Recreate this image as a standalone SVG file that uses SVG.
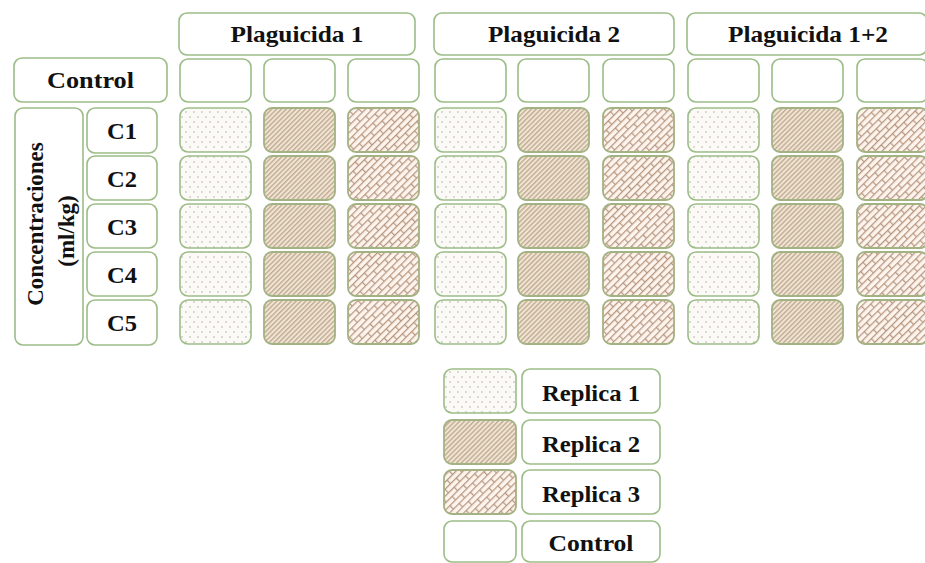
<svg xmlns="http://www.w3.org/2000/svg" width="925" height="563" viewBox="0 0 925 563">
<defs>
<style>
.box{fill:#ffffff;stroke:#9dbd88;stroke-width:1.6;rx:8px;ry:8px}
.r1{fill:url(#p1);stroke:#9dbd88;stroke-width:1.6;rx:8px;ry:8px}
.r2{fill:url(#p2);stroke:#a3b283;stroke-width:1.8;rx:8px;ry:8px}
.r3{fill:url(#p3);stroke:#a3b283;stroke-width:1.8;rx:8px;ry:8px}
.t{font-family:"Liberation Serif","Times New Roman",serif;font-weight:bold;font-size:23px;fill:#111111;text-anchor:middle}
</style>
<pattern id="p1" patternUnits="userSpaceOnUse" width="8" height="10">
<rect width="8" height="10" fill="#fcfaf7"/>
<circle cx="2" cy="2" r="0.75" fill="#aaa49c"/>
<circle cx="6" cy="7" r="0.75" fill="#aaa49c"/>
</pattern>
<pattern id="p2" patternUnits="userSpaceOnUse" width="3.4" height="10" patternTransform="rotate(45)">
<rect width="3.4" height="10" fill="#efe5d6"/>
<rect width="1.4" height="10" fill="#c3ab90"/>
</pattern>
<pattern id="p3" patternUnits="userSpaceOnUse" width="16" height="10" patternTransform="rotate(-45)">
<rect width="16" height="10" fill="#fdf4ee"/>
<path d="M0 0.6H16M0 5.6H16M0.6 0V5M8.6 5V10" stroke="#b8977f" stroke-width="1.2" fill="none"/>
</pattern>
</defs>
<rect width="925" height="563" fill="#ffffff"/>

<g id="header-p1"><rect class="box" x="179" y="13" width="236" height="42"/><text class="t" x="297" y="42" textLength="133" lengthAdjust="spacingAndGlyphs">Plaguicida 1</text></g>
<g id="header-p2"><rect class="box" x="434" y="13" width="240" height="42"/><text class="t" x="554" y="42" textLength="132" lengthAdjust="spacingAndGlyphs">Plaguicida 2</text></g>
<g id="header-p12"><rect class="box" x="687" y="13" width="240" height="42"/><text class="t" x="808" y="42" textLength="160" lengthAdjust="spacingAndGlyphs">Plaguicida 1+2</text></g>

<g id="label-control"><rect class="box" x="14" y="58" width="153" height="44"/><text class="t" x="90.5" y="88" textLength="87" lengthAdjust="spacingAndGlyphs">Control</text></g>
<g id="label-concentraciones"><rect class="box" x="15" y="108" width="68" height="237"/>
<text class="t" transform="translate(43,224) rotate(-90)">Concentraciones</text>
<text class="t" transform="translate(74,231) rotate(-90)">(ml/kg)</text></g>
<g id="label-c1"><rect class="box" x="87" y="108" width="70" height="45"/><text class="t" x="122" y="139" textLength="30" lengthAdjust="spacingAndGlyphs">C1</text></g>
<g id="label-c2"><rect class="box" x="87" y="156" width="70" height="44"/><text class="t" x="122" y="187" textLength="30" lengthAdjust="spacingAndGlyphs">C2</text></g>
<g id="label-c3"><rect class="box" x="87" y="204" width="70" height="44"/><text class="t" x="122" y="235" textLength="30" lengthAdjust="spacingAndGlyphs">C3</text></g>
<g id="label-c4"><rect class="box" x="87" y="252" width="70" height="44"/><text class="t" x="122" y="283" textLength="30" lengthAdjust="spacingAndGlyphs">C4</text></g>
<g id="label-c5"><rect class="box" x="87" y="300" width="70" height="45"/><text class="t" x="122" y="331" textLength="30" lengthAdjust="spacingAndGlyphs">C5</text></g>

<g id="control-row">
<rect class="box" x="180" y="59" width="71" height="43"/><rect class="box" x="264" y="59" width="71" height="43"/><rect class="box" x="348" y="59" width="71" height="43"/>
<rect class="box" x="435" y="59" width="71" height="43"/><rect class="box" x="518" y="59" width="71" height="43"/><rect class="box" x="603" y="59" width="71" height="43"/>
<rect class="box" x="688" y="59" width="71" height="43"/><rect class="box" x="772" y="59" width="71" height="43"/><rect class="box" x="857" y="59" width="71" height="43"/>
</g>
<g id="row-c1">
<rect class="r1" x="180" y="108" width="71" height="44"/><rect class="r2" x="264" y="108" width="71" height="44"/><rect class="r3" x="348" y="108" width="71" height="44"/>
<rect class="r1" x="435" y="108" width="71" height="44"/><rect class="r2" x="518" y="108" width="71" height="44"/><rect class="r3" x="603" y="108" width="71" height="44"/>
<rect class="r1" x="688" y="108" width="71" height="44"/><rect class="r2" x="772" y="108" width="71" height="44"/><rect class="r3" x="857" y="108" width="71" height="44"/>
</g>
<g id="row-c2">
<rect class="r1" x="180" y="156" width="71" height="44"/><rect class="r2" x="264" y="156" width="71" height="44"/><rect class="r3" x="348" y="156" width="71" height="44"/>
<rect class="r1" x="435" y="156" width="71" height="44"/><rect class="r2" x="518" y="156" width="71" height="44"/><rect class="r3" x="603" y="156" width="71" height="44"/>
<rect class="r1" x="688" y="156" width="71" height="44"/><rect class="r2" x="772" y="156" width="71" height="44"/><rect class="r3" x="857" y="156" width="71" height="44"/>
</g>
<g id="row-c3">
<rect class="r1" x="180" y="204" width="71" height="44"/><rect class="r2" x="264" y="204" width="71" height="44"/><rect class="r3" x="348" y="204" width="71" height="44"/>
<rect class="r1" x="435" y="204" width="71" height="44"/><rect class="r2" x="518" y="204" width="71" height="44"/><rect class="r3" x="603" y="204" width="71" height="44"/>
<rect class="r1" x="688" y="204" width="71" height="44"/><rect class="r2" x="772" y="204" width="71" height="44"/><rect class="r3" x="857" y="204" width="71" height="44"/>
</g>
<g id="row-c4">
<rect class="r1" x="180" y="252" width="71" height="44"/><rect class="r2" x="264" y="252" width="71" height="44"/><rect class="r3" x="348" y="252" width="71" height="44"/>
<rect class="r1" x="435" y="252" width="71" height="44"/><rect class="r2" x="518" y="252" width="71" height="44"/><rect class="r3" x="603" y="252" width="71" height="44"/>
<rect class="r1" x="688" y="252" width="71" height="44"/><rect class="r2" x="772" y="252" width="71" height="44"/><rect class="r3" x="857" y="252" width="71" height="44"/>
</g>
<g id="row-c5">
<rect class="r1" x="180" y="300" width="71" height="44"/><rect class="r2" x="264" y="300" width="71" height="44"/><rect class="r3" x="348" y="300" width="71" height="44"/>
<rect class="r1" x="435" y="300" width="71" height="44"/><rect class="r2" x="518" y="300" width="71" height="44"/><rect class="r3" x="603" y="300" width="71" height="44"/>
<rect class="r1" x="688" y="300" width="71" height="44"/><rect class="r2" x="772" y="300" width="71" height="44"/><rect class="r3" x="857" y="300" width="71" height="44"/>
</g>

<g id="legend-replica1"><rect class="r1" x="444" y="369" width="72" height="44"/><rect class="box" x="522" y="369" width="138" height="44"/><text class="t" x="591" y="401" textLength="98" lengthAdjust="spacingAndGlyphs">Replica 1</text></g>
<g id="legend-replica2"><rect class="r2" x="444" y="420" width="72" height="44"/><rect class="box" x="522" y="420" width="138" height="44"/><text class="t" x="591" y="452" textLength="98" lengthAdjust="spacingAndGlyphs">Replica 2</text></g>
<g id="legend-replica3"><rect class="r3" x="444" y="470" width="72" height="44"/><rect class="box" x="522" y="470" width="138" height="44"/><text class="t" x="591" y="502" textLength="98" lengthAdjust="spacingAndGlyphs">Replica 3</text></g>
<g id="legend-control"><rect class="box" x="444" y="521" width="72" height="41"/><rect class="box" x="522" y="521" width="138" height="41"/><text class="t" x="591" y="551" textLength="85" lengthAdjust="spacingAndGlyphs">Control</text></g>

<g id="connectors"/>
</svg>
